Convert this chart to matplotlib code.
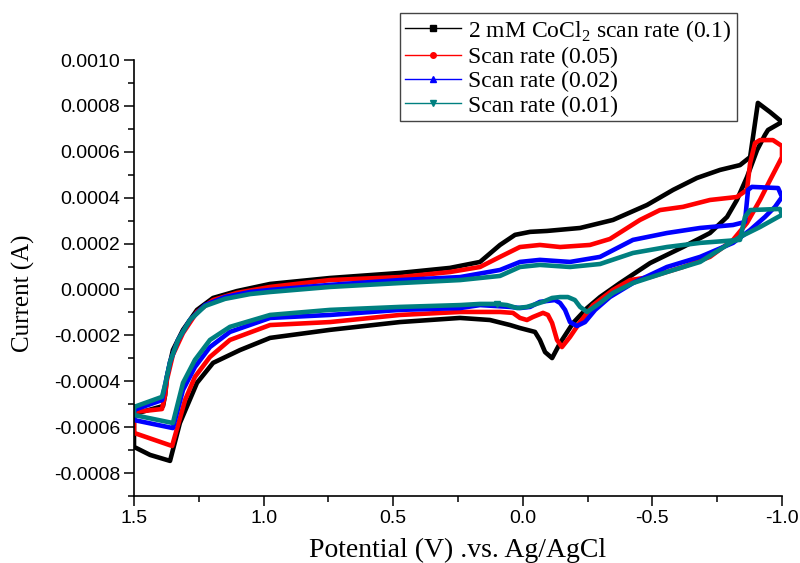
import matplotlib
matplotlib.use("Agg")
import matplotlib.pyplot as plt
import numpy as np
from matplotlib.lines import Line2D
from matplotlib.ticker import MultipleLocator, FormatStrFormatter

plt.rcParams["mathtext.fontset"] = "custom"
plt.rcParams["mathtext.rm"] = "Liberation Serif"

# Cyclic voltammograms: potential (V vs Ag/AgCl) and current (uA), one closed loop per scan rate.
# Forward branch 1.5 V -> -1.0 V, then return branch back to 1.5 V.
e_01 = [1.500, 1.388, 1.380, 1.373, 1.350, 1.311, 1.257, 1.195, 1.103, 0.975, 0.744, 0.474,
        0.281, 0.165, 0.088, 0.030, -0.028, -0.093, -0.221, -0.348, -0.479, -0.580, -0.672,
        -0.761, -0.838, -0.877, -0.892, -0.907, -0.954, -1.000,
        -0.946, -0.934, -0.904, -0.865, -0.826, -0.788, -0.722, -0.618, -0.491, -0.375,
        -0.298, -0.248, -0.194, -0.144, -0.113, -0.086, -0.066, -0.047, 0.011, 0.049, 0.127,
        0.242, 0.474, 0.744, 0.975, 1.091, 1.195, 1.257, 1.323, 1.361, 1.438, 1.500, 1.500]
i_01 = [-543, -508, -460, -381, -264, -176, -89, -37, -7, 24, 50, 72,
        94, 120, 194, 238, 251, 255, 268, 303, 368, 434, 486,
        521, 542, 577, 695, 813, 773, 730,
        695, 673, 608, 490, 390, 316, 246, 185, 115, 28,
        -33, -81, -146, -233, -299, -273, -220, -185, -168, -155, -133,
        -124, -142, -176, -211, -264, -320, -407, -582, -747, -721, -686, -543]

e_005 = [1.500, 1.392, 1.380, 1.373, 1.350, 1.311, 1.257, 1.195, 1.103, 0.975, 0.744, 0.474,
         0.281, 0.165, 0.088, 0.011, -0.066, -0.144, -0.259, -0.336, -0.452, -0.529, -0.618,
         -0.722, -0.826, -0.865, -0.877, -0.896, -0.915, -0.965, -1.000, -1.000,
         -0.954, -0.915, -0.865, -0.811, -0.722, -0.618, -0.491, -0.414, -0.348, -0.271,
         -0.221, -0.182, -0.151, -0.132, -0.113, -0.097, -0.078, -0.039, -0.016, 0.011, 0.038,
         0.088, 0.242, 0.474, 0.744, 0.975, 1.130, 1.207, 1.265, 1.303, 1.353, 1.500, 1.500]
i_005 = [-534, -521, -460, -394, -285, -190, -98, -46, -15, 11, 41, 54,
         76, 98, 142, 185, 194, 185, 194, 220, 303, 346, 360,
         390, 403, 434, 551, 638, 651, 651, 625, 577,
         477, 390, 290, 216, 142, 98, 54, 41, -2, -68,
         -142, -207, -251, -220, -146, -111, -102, -120, -133, -124, -102,
         -98, -98, -111, -142, -155, -220, -294, -381, -482, -682, -625, -534]

e_002 = [1.500, 1.392, 1.380, 1.361, 1.330, 1.284, 1.226, 1.149, 1.052, 0.975, 0.744, 0.474,
         0.242, 0.088, 0.011, -0.066, -0.182, -0.298, -0.425, -0.556, -0.684, -0.811, -0.857,
         -0.869, -0.884, -0.985, -1.000,
         -0.973, -0.934, -0.877, -0.811, -0.684, -0.556, -0.425, -0.336, -0.279, -0.240,
         -0.209, -0.182, -0.163, -0.144, -0.124, -0.066, -0.028, 0.011, 0.049, 0.165, 0.242,
         0.474, 0.744, 0.975, 1.130, 1.207, 1.265, 1.311, 1.350, 1.500, 1.500]
i_002 = [-525, -482, -416, -316, -220, -133, -68, -33, -11, -2, 20, 41,
         54, 85, 120, 129, 120, 142, 216, 246, 268, 281, 294,
         434, 447, 442, 403,
         360, 316, 259, 203, 142, 98, 28, -33, -89, -142,
         -159, -142, -89, -59, -46, -54, -76, -81, -76, -68, -81,
         -89, -111, -124, -185, -251, -338, -438, -604, -569, -525]

e_001 = [1.500, 1.392, 1.380, 1.361, 1.330, 1.284, 1.226, 1.149, 1.052, 0.975, 0.744, 0.474,
         0.242, 0.088, 0.011, -0.066, -0.182, -0.298, -0.425, -0.556, -0.684, -0.838, -0.857,
         -0.877, -0.992, -1.000,
         -0.985, -0.915, -0.838, -0.684, -0.556, -0.425, -0.348, -0.298, -0.248, -0.221,
         -0.201, -0.174, -0.144, -0.113, -0.078, -0.016, 0.022, 0.061, 0.100, 0.165, 0.242,
         0.474, 0.744, 0.975, 1.130, 1.207, 1.265, 1.311, 1.350, 1.500, 1.500]
i_001 = [-512, -468, -416, -316, -220, -133, -72, -41, -20, -11, 11, 28,
         41, 59, 98, 107, 98, 111, 159, 185, 203, 216, 316,
         346, 351, 325,
         316, 272, 229, 120, 76, 28, -15, -59, -98, -76,
         -46, -33, -33, -37, -54, -76, -81, -68, -63, -63, -68,
         -76, -89, -111, -163, -220, -307, -407, -582, -547, -512]

labels = [r"2 mM CoCl$_\mathregular{2}$ scan rate (0.1)", "Scan rate (0.05)",
          "Scan rate (0.02)", "Scan rate (0.01)"]
colors = ["#000000", "#ff0000", "#0000ff", "#008080"]
markers = ["s", "o", "^", "v"]

fig = plt.figure(figsize=(8, 5.63), dpi=100)
ax = fig.add_axes([134 / 800, 1 - 496 / 563, 648 / 800, 436 / 563])

series = [(e_01, i_01), (e_005, i_005), (e_002, i_002), (e_001, i_001)]
for (e, i), c in zip(series, colors):
    ax.plot(e, np.array(i) * 1e-6, color=c, lw=3.3, solid_joinstyle="round", zorder=2)
# one visible data marker on the slowest scan
mk = e_001.index(0.100)
ax.plot([e_001[mk]], [i_001[mk] * 1e-6], ls="none", marker="v", ms=5, color=colors[3], zorder=3)

ax.set_xlim(1.5, -1.0)
ax.set_ylim(-0.0009, 0.0010)
for s in ("top", "right"):
    ax.spines[s].set_visible(False)
for s in ("left", "bottom"):
    ax.spines[s].set_linewidth(1.2)
ax.xaxis.set_major_locator(MultipleLocator(0.5))
ax.xaxis.set_minor_locator(MultipleLocator(0.25))
ax.yaxis.set_major_locator(MultipleLocator(0.0002))
ax.yaxis.set_minor_locator(MultipleLocator(0.0001))
ax.xaxis.set_major_formatter(FormatStrFormatter("%.1f"))
ax.yaxis.set_major_formatter(FormatStrFormatter("%.4f"))
ax.tick_params(which="major", direction="out", length=7, width=1.1, pad=3)
ax.tick_params(which="minor", direction="out", length=4, width=1.1)
for lab in ax.get_xticklabels() + ax.get_yticklabels():
    lab.set_fontfamily("Liberation Sans")
    lab.set_fontsize(14)

ax.set_xlabel("Potential (V) .vs. Ag/AgCl", family="Liberation Serif", fontsize=20)
ax.set_ylabel("Current (A)", family="Liberation Serif", fontsize=18)
ax.xaxis.set_label_coords(0.5, -0.095)
ax.yaxis.set_label_coords(-0.153, 0.466)

handles = [Line2D([], [], color=c, lw=1, marker=m, ms=4) for c, m in zip(colors, markers)]
leg = fig.legend(handles, labels, loc="upper left", bbox_to_anchor=(400 / 800, 1 - 13 / 563),
                 frameon=True, fancybox=False, edgecolor="#444444", framealpha=1,
                 borderpad=0.2, labelspacing=0.12, handlelength=2.4, handletextpad=0.3,
                 borderaxespad=0, prop={"family": "Liberation Serif", "size": 17})
leg.get_frame().set_linewidth(1.0)

fig.savefig("out.png", dpi=100)
